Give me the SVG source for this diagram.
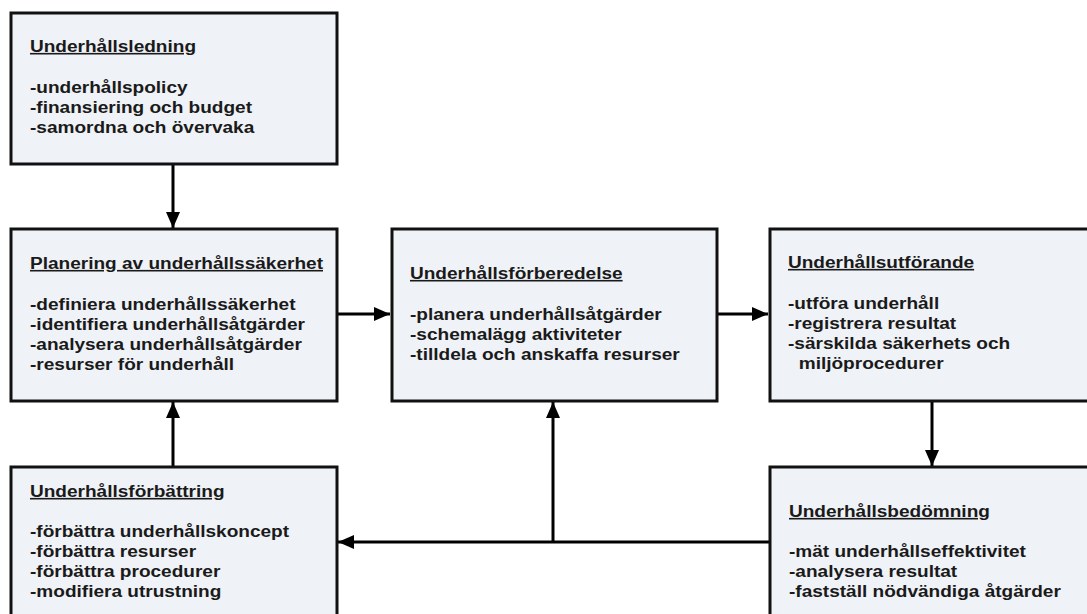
<svg xmlns="http://www.w3.org/2000/svg" width="1087" height="614" viewBox="0 0 1087 614">
<defs>
<style>
.box{fill:#eff2f7;stroke:#111;stroke-width:3}
.t{font-family:"Liberation Sans",Arial,sans-serif;font-weight:bold;font-size:16px;fill:#1a1a1a}
.h{text-decoration:underline}
.c{stroke:#000;stroke-width:3;fill:none}
</style>
<marker id="ah" viewBox="0 0 16 14" refX="16" refY="7" markerWidth="16" markerHeight="14" markerUnits="userSpaceOnUse" orient="auto">
<path d="M0,0 L16,7 L0,14 Z" fill="#000"/>
</marker>
</defs>
<rect width="1087" height="614" fill="#fff"/>
<g id="connectors">
<line class="c" x1="173" y1="164" x2="173" y2="228" marker-end="url(#ah)"/>
<line class="c" x1="173" y1="466" x2="173" y2="402" marker-end="url(#ah)"/>
<line class="c" x1="337" y1="314" x2="390" y2="314" marker-end="url(#ah)"/>
<line class="c" x1="717" y1="314" x2="768" y2="314" marker-end="url(#ah)"/>
<line class="c" x1="932" y1="401" x2="932" y2="466" marker-end="url(#ah)"/>
<line class="c" x1="770" y1="542" x2="338" y2="542" marker-end="url(#ah)"/>
<line class="c" x1="553" y1="542" x2="553" y2="402" marker-end="url(#ah)"/>
</g>
<g id="ledning">
<rect class="box" x="11" y="13" width="326" height="151"/>
<g class="t" transform="translate(30,0) scale(1.19,1)">
<text class="h" x="0" y="52">Underhållsledning</text>
<text x="0" y="93">-underhållspolicy</text>
<text x="0" y="113">-finansiering och budget</text>
<text x="0" y="133">-samordna och övervaka</text>
</g>
</g>
<g id="planering">
<rect class="box" x="11" y="229" width="326" height="172"/>
<g class="t" transform="translate(30,0) scale(1.19,1)">
<text class="h" x="0" y="269">Planering av underhållssäkerhet</text>
<text x="0" y="310">-definiera underhållssäkerhet</text>
<text x="0" y="330">-identifiera underhållsåtgärder</text>
<text x="0" y="350">-analysera underhållsåtgärder</text>
<text x="0" y="370">-resurser för underhåll</text>
</g>
</g>
<g id="forberedelse">
<rect class="box" x="392" y="229" width="325" height="172"/>
<g class="t" transform="translate(410,0) scale(1.19,1)">
<text class="h" x="0" y="279">Underhållsförberedelse</text>
<text x="0" y="320">-planera underhållsåtgärder</text>
<text x="0" y="340">-schemalägg aktiviteter</text>
<text x="0" y="360">-tilldela och anskaffa resurser</text>
</g>
</g>
<g id="utforande">
<rect class="box" x="770" y="229" width="340" height="172"/>
<g class="t" transform="translate(788,0) scale(1.19,1)">
<text class="h" x="0" y="268">Underhållsutförande</text>
<text x="0" y="309">-utföra underhåll</text>
<text x="0" y="329">-registrera resultat</text>
<text x="0" y="349">-särskilda säkerhets och</text>
<text x="9" y="369">miljöprocedurer</text>
</g>
</g>
<g id="forbattring">
<rect class="box" x="11" y="467" width="326" height="170"/>
<g class="t" transform="translate(30,0) scale(1.19,1)">
<text class="h" x="0" y="497">Underhållsförbättring</text>
<text x="0" y="537">-förbättra underhållskoncept</text>
<text x="0" y="557">-förbättra resurser</text>
<text x="0" y="577">-förbättra procedurer</text>
<text x="0" y="597">-modifiera utrustning</text>
</g>
</g>
<g id="bedomning">
<rect class="box" x="770" y="467" width="340" height="170"/>
<g class="t" transform="translate(789,0) scale(1.19,1)">
<text class="h" x="0" y="517">Underhållsbedömning</text>
<text x="0" y="557">-mät underhållseffektivitet</text>
<text x="0" y="577">-analysera resultat</text>
<text x="0" y="597">-fastställ nödvändiga åtgärder</text>
</g>
</g>
</svg>
